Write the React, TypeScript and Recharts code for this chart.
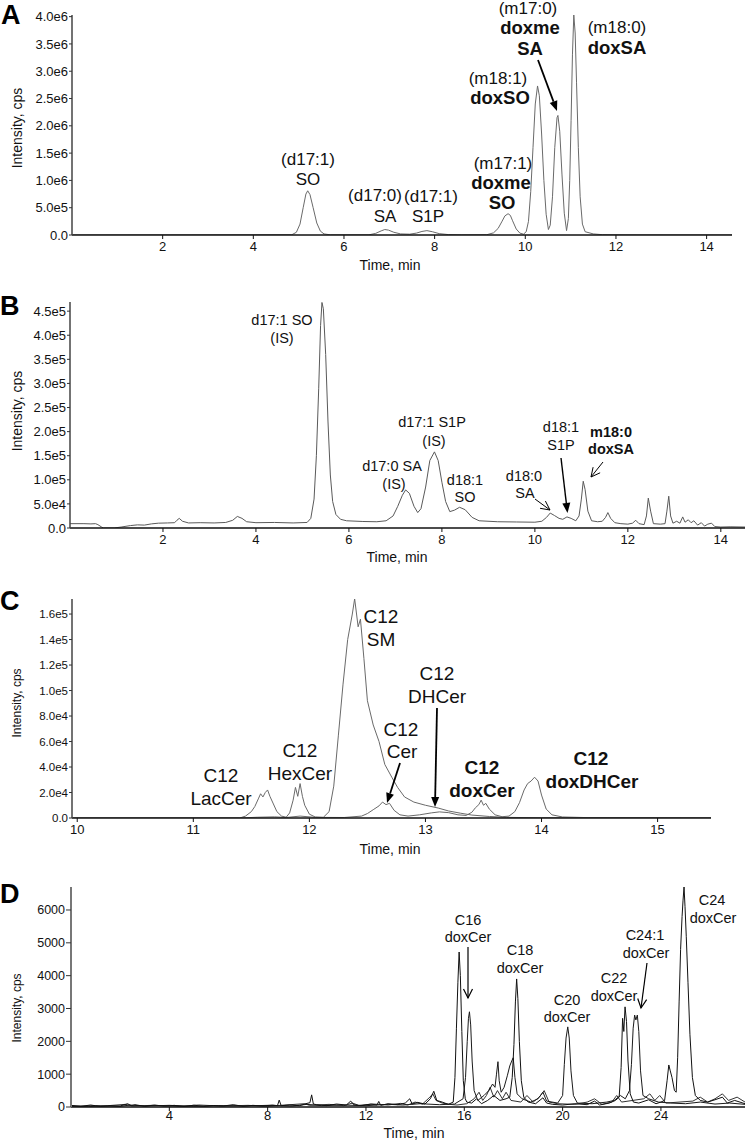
import { LineChart, Line, XAxis, YAxis } from 'recharts';

const FONT = '"Liberation Sans", Arial, Helvetica, sans-serif';

// Each trace is a list of [time (min), intensity (cps)].

// Panel A: sphingoid base standards
const A_TRACE: [number, number][] = [
  [0, 0], [4.85, 5e3], [4.95, 5e4], [5.03, 2.0e5], [5.1, 5.0e5], [5.16, 7.5e5], [5.2, 8.1e5],
  [5.25, 7.4e5], [5.32, 5.0e5], [5.4, 2.2e5], [5.48, 7e4], [5.56, 2e4], [5.7, 3e3], [6.55, 3e3],
  [6.7, 3e4], [6.82, 7.5e4], [6.9, 1.0e5], [6.98, 9e4], [7.1, 5e4], [7.25, 2e4], [7.45, 1.5e4],
  [7.6, 3.5e4], [7.72, 6.5e4], [7.83, 8.0e4], [7.95, 6e4], [8.1, 2.5e4], [8.3, 8e3], [8.6, 3e3],
  [9.15, 5e3], [9.3, 4e4], [9.4, 1.2e5], [9.48, 2.4e5], [9.55, 3.5e5], [9.62, 3.9e5], [9.67, 3.6e5],
  [9.72, 2.6e5], [9.8, 1.1e5], [9.88, 3.5e4], [9.96, 1.5e4], [10.02, 6e4], [10.07, 2.5e5],
  [10.12, 8.0e5], [10.17, 1.6e6], [10.22, 2.4e6], [10.27, 2.73e6], [10.31, 2.55e6], [10.36, 1.85e6],
  [10.41, 1.0e6], [10.46, 3.8e5], [10.51, 1.0e5], [10.55, 1.8e5], [10.6, 7e5], [10.65, 1.6e6],
  [10.7, 2.15e6], [10.72, 2.19e6], [10.76, 1.9e6], [10.81, 1.1e6], [10.86, 4e5], [10.91, 8e4],
  [10.95, 3e5], [10.98, 1.0e6], [11.01, 2.1e6], [11.04, 3.3e6], [11.07, 4.03e6], [11.1, 3.7e6],
  [11.13, 2.8e6], [11.17, 1.6e6], [11.21, 7e5], [11.26, 2e5], [11.32, 6e4], [11.5, 2e4],
  [11.7, 6e3], [12.2, 2e3], [14.56, 0],
];
const A_X_TICKS = [2, 4, 6, 8, 10, 12, 14];
const A_Y_TICKS = [0, 5e5, 1e6, 1.5e6, 2e6, 2.5e6, 3e6, 3.5e6, 4e6];
const A_Y_LABELS = ['0.0', '5.0e5', '1.0e6', '1.5e6', '2.0e6', '2.5e6', '3.0e6', '3.5e6', '4.0e6'];

// Panel B: cell extract, sphingoid bases
const B_TRACE: [number, number][] = [
  [0, 9000], [0.3, 9000], [0.45, 8500], [0.55, 9000], [0.6, 7000], [0.68, 2000], [0.72, 0],
  [0.95, 0], [1.1, 2000], [1.3, 5000], [1.45, 6500], [1.6, 6000], [1.75, 8500], [1.9, 10000],
  [2.1, 10500], [2.25, 11000], [2.3, 16000], [2.35, 20000], [2.42, 14000], [2.55, 10500],
  [2.8, 11000], [3.1, 10500], [3.35, 11500], [3.5, 16000], [3.6, 24000], [3.7, 20000],
  [3.8, 13000], [4.0, 11000], [4.4, 11500], [4.8, 10500], [5.1, 11500], [5.18, 20000],
  [5.25, 60000], [5.3, 150000], [5.35, 290000], [5.39, 420000], [5.42, 468000], [5.45, 455000],
  [5.5, 360000], [5.55, 220000], [5.6, 110000], [5.65, 55000], [5.72, 28000], [5.82, 18000],
  [5.95, 15000], [6.3, 13500], [6.6, 13000], [6.8, 15000], [6.95, 25000], [7.05, 45000],
  [7.15, 68000], [7.22, 79000], [7.3, 72000], [7.4, 45000], [7.48, 32000], [7.55, 40000],
  [7.65, 85000], [7.74, 140000], [7.84, 158000], [7.92, 140000], [8.0, 95000], [8.08, 55000],
  [8.17, 34000], [8.27, 37000], [8.38, 43000], [8.5, 38000], [8.65, 22000], [8.8, 15000],
  [9.2, 13000], [9.6, 12500], [10.0, 12000], [10.15, 14000], [10.25, 22000], [10.33, 31000],
  [10.42, 26000], [10.52, 20000], [10.6, 18000], [10.69, 23000], [10.78, 20000], [10.88, 15000],
  [10.95, 25000], [11.0, 60000], [11.04, 97000], [11.08, 80000], [11.14, 35000], [11.22, 15000],
  [11.35, 13000], [11.45, 14000], [11.52, 22000], [11.57, 32000], [11.63, 20000], [11.72, 11000],
  [11.85, 9000], [12.0, 8000], [12.1, 10000], [12.17, 16000], [12.24, 9000], [12.35, 7000],
  [12.4, 25000], [12.44, 62000], [12.49, 35000], [12.55, 9000], [12.7, 8000], [12.8, 9000],
  [12.84, 35000], [12.88, 66000], [12.92, 25000], [12.97, 10000], [13.05, 14000], [13.12, 10000],
  [13.18, 23000], [13.23, 12000], [13.3, 17000], [13.36, 11000], [13.42, 15000], [13.5, 6000],
  [13.58, 11000], [13.65, 4000], [13.72, 8000], [13.8, 10000], [13.87, 3000], [14.0, 2000],
  [14.2, 2500], [14.52, 2000],
];
const B_X_TICKS = [2, 4, 6, 8, 10, 12, 14];
const B_Y_TICKS = [0, 5e4, 1e5, 1.5e5, 2e5, 2.5e5, 3e5, 3.5e5, 4e5, 4.5e5];
const B_Y_LABELS = ['0.0', '5.0e4', '1.0e5', '1.5e5', '2.0e5', '2.5e5', '3.0e5', '3.5e5', '4.0e5', '4.5e5'];

// Panel C: C12 ceramide species
const C_TRACE_1: [number, number][] = [
  [9.955, 0], [11.4, 0], [11.45, 1500], [11.5, 5000], [11.53, 9000], [11.56, 15000], [11.58, 19000],
  [11.6, 16500], [11.62, 20000], [11.64, 22000], [11.66, 17000], [11.69, 11000], [11.72, 5000],
  [11.76, 1500], [11.8, 600], [11.83, 4000], [11.86, 14000], [11.88, 24000], [11.9, 17000],
  [11.92, 27000], [11.94, 17000], [11.96, 10000], [12.0, 3000], [12.05, 800], [12.12, 500],
  [12.17, 5000], [12.21, 25000], [12.25, 65000], [12.29, 105000], [12.33, 140000], [12.37, 160000],
  [12.39, 172000], [12.42, 150000], [12.44, 156000], [12.47, 125000], [12.5, 92000], [12.55, 73000],
  [12.6, 60000], [12.65, 42000], [12.71, 32000], [12.76, 24000], [12.82, 16500], [12.9, 12500],
  [13.0, 10000], [13.11, 7800], [13.2, 5500], [13.3, 3800], [13.4, 2300], [13.55, 1200],
  [13.7, 500], [14.0, 200], [15.46, 0],
];
const C_TRACE_2: [number, number][] = [
  [9.955, 0], [11.4, 0], [11.55, 600], [11.7, 900], [11.8, 400], [11.92, 1500], [12.05, 500],
  [12.3, 400], [12.45, 1500], [12.5, 3500], [12.55, 6500], [12.6, 9500], [12.63, 12500],
  [12.66, 10500], [12.69, 11500], [12.73, 6000], [12.78, 2500], [12.85, 1500], [12.95, 2500],
  [13.05, 4000], [13.12, 4800], [13.2, 4200], [13.28, 2500], [13.35, 2000], [13.4, 4500],
  [13.43, 8000], [13.46, 10500], [13.48, 14000], [13.5, 10000], [13.52, 11500], [13.55, 7000],
  [13.6, 2500], [13.66, 1000], [13.72, 1500], [13.77, 5000], [13.81, 12000], [13.85, 22000],
  [13.88, 27000], [13.91, 29000], [13.94, 32000], [13.97, 29000], [14.0, 18000], [14.04, 7000],
  [14.09, 2500], [14.18, 800], [14.4, 300], [15.0, 100], [15.46, 0],
];
const C_X_TICKS = [10, 11, 12, 13, 14, 15];
const C_Y_TICKS = [0, 2e4, 4e4, 6e4, 8e4, 1e5, 1.2e5, 1.4e5, 1.6e5];
const C_Y_LABELS = ['0.0', '2.0e4', '4.0e4', '6.0e4', '8.0e4', '1.0e5', '1.2e5', '1.4e5', '1.6e5'];

// Panel D: long-chain doxCer species
const D_TRACE_1: [number, number][] = [
  [0, 50], [0.4, 20], [0.8, 60], [1.2, 15], [1.6, 40], [2.0, 30], [2.3, 100], [2.45, 40], [2.6, 70],
  [3.0, 20], [3.4, 60], [3.8, 25], [4.2, 50], [4.6, 15], [5.0, 55], [5.4, 20], [5.8, 45], [6.2, 30],
  [6.6, 70], [7.0, 20], [7.4, 50], [7.8, 30], [8.2, 60], [8.4, 40], [8.47, 210], [8.55, 40],
  [8.9, 60], [9.3, 40], [9.6, 110], [9.72, 130], [9.79, 370], [9.86, 90], [10.0, 70], [10.4, 40],
  [10.8, 90], [11.2, 60], [11.38, 180], [11.5, 70], [11.8, 40], [12.2, 90], [12.45, 60],
  [12.52, 170], [12.6, 50], [12.9, 100], [13.3, 70], [13.6, 120], [13.78, 250], [13.88, 90],
  [14.1, 140], [14.4, 90], [14.62, 250], [14.76, 480], [14.88, 200], [15.1, 150], [15.35, 80],
  [15.55, 150], [15.62, 900], [15.68, 2400], [15.74, 3800], [15.79, 4720], [15.84, 4000],
  [15.9, 2300], [15.96, 800], [16.04, 250], [16.1, 150], [16.3, 120], [16.5, 250], [16.7, 100],
  [16.95, 200], [17.2, 350], [17.45, 200], [17.7, 250], [17.85, 300], [17.95, 900], [18.02, 1900],
  [18.08, 3200], [18.13, 3900], [18.18, 3300], [18.24, 2000], [18.32, 800], [18.42, 300],
  [18.6, 150], [18.9, 100], [19.2, 280], [19.35, 120], [19.6, 80], [20.0, 60], [20.5, 100],
  [21.0, 70], [21.3, 180], [21.5, 60], [21.9, 120], [22.15, 200], [22.3, 300], [22.38, 1200],
  [22.44, 2700], [22.49, 2300], [22.54, 3050], [22.6, 2600], [22.66, 1400], [22.75, 400],
  [22.88, 150], [23.1, 120], [23.5, 220], [23.8, 100], [24.0, 150], [24.15, 200], [24.25, 800],
  [24.32, 1280], [24.38, 1100], [24.45, 900], [24.55, 500], [24.62, 450], [24.68, 1500],
  [24.74, 3200], [24.8, 4800], [24.86, 5800], [24.9, 6300], [24.94, 6700], [24.98, 6100],
  [25.03, 5200], [25.1, 3800], [25.18, 2200], [25.28, 900], [25.4, 350], [25.6, 200], [25.9, 150],
  [26.2, 220], [26.5, 300], [26.7, 120], [27.0, 200], [27.42, 100],
];
const D_TRACE_2: [number, number][] = [
  [0, 20], [1.0, 40], [2.0, 20], [2.4, 60], [3.0, 30], [4.0, 50], [5.0, 20], [6.0, 40], [7.0, 30],
  [8.0, 50], [9.0, 30], [9.6, 80], [10.2, 40], [11.0, 60], [12.0, 40], [12.9, 80], [13.5, 60],
  [14.2, 100], [15.0, 70], [15.6, 90], [15.95, 250], [16.05, 900], [16.12, 2000], [16.17, 2700],
  [16.21, 2900], [16.26, 2500], [16.32, 1400], [16.4, 500], [16.55, 200], [16.8, 350], [17.0, 500],
  [17.15, 700], [17.25, 600], [17.31, 1000], [17.37, 1380], [17.42, 800], [17.5, 450], [17.62, 600],
  [17.75, 950], [17.85, 1250], [17.93, 1400], [17.99, 1500], [18.06, 900], [18.15, 400],
  [18.35, 250], [18.7, 150], [19.0, 250], [19.2, 450], [19.35, 180], [19.8, 120], [20.0, 350],
  [20.07, 1300], [20.14, 2100], [20.21, 2440], [20.27, 2100], [20.34, 1100], [20.44, 350],
  [20.6, 120], [21.2, 100], [21.8, 150], [22.1, 200], [22.35, 350], [22.55, 250], [22.72, 500],
  [22.8, 1300], [22.87, 2400], [22.93, 2800], [22.98, 2650], [23.04, 2800], [23.1, 2300],
  [23.17, 1100], [23.27, 350], [23.5, 250], [23.9, 150], [24.4, 120], [25.0, 100], [25.6, 150],
  [26.2, 90], [26.8, 120], [27.42, 80],
];
const D_TRACE_3: [number, number][] = [
  [0, 30], [0.7, 10], [1.5, 40], [2.2, 80], [2.5, 30], [3.3, 50], [4.4, 20], [5.2, 60], [6.1, 30],
  [7.2, 50], [8.0, 20], [8.7, 60], [9.5, 100], [9.7, 50], [10.5, 80], [11.1, 40], [11.45, 120],
  [11.7, 50], [12.3, 90], [12.9, 60], [13.4, 110], [13.7, 60], [14.0, 150], [14.3, 90], [14.6, 300],
  [14.72, 400], [14.85, 200], [15.1, 120], [15.4, 80], [15.7, 60], [16.1, 100], [16.4, 250],
  [16.6, 450], [16.75, 200], [16.9, 350], [17.05, 600], [17.2, 300], [17.35, 500], [17.55, 250],
  [17.7, 450], [17.9, 200], [18.3, 150], [18.55, 350], [18.8, 150], [19.05, 300], [19.25, 500],
  [19.45, 150], [19.8, 100], [20.5, 80], [21.0, 150], [21.3, 250], [21.6, 80], [22.0, 150],
  [22.2, 350], [22.4, 150], [23.3, 250], [23.55, 400], [23.75, 200], [23.95, 350], [24.2, 120],
  [25.3, 180], [25.6, 300], [25.9, 150], [26.2, 250], [26.5, 400], [26.75, 200], [27.1, 300],
  [27.42, 150],
];
const D_X_TICKS = [4, 8, 12, 16, 20, 24];
const D_Y_TICKS = [0, 1000, 2000, 3000, 4000, 5000, 6000];
const D_Y_LABELS = ['0', '1000', '2000', '3000', '4000', '5000', '6000'];

type Pt = { t: number; v: number };
const toPoints = (trace: [number, number][]): Pt[] => trace.map(([t, v]) => ({ t, v }));

interface Trace {
  data: Pt[];
  color: string;
  width?: number;
}

interface PanelProps {
  top: number;
  height: number;
  plot: { left: number; right: number; top: number; bottom: number };
  xDomain: [number, number];
  yDomain: [number, number];
  xTicks: number[];
  yTicks: number[];
  yLabels: string[];
  traces: Trace[];
  xFont: number;
  yFont: number;
  xTickGap: number;
  yTickSize: number;
  yAxisColor: string;
  yAxisWidth: number;
}

function Panel(p: PanelProps) {
  const margin = {
    top: p.plot.top - p.top,
    right: 745 - p.plot.right,
    bottom: p.top + p.height - p.plot.bottom - 30,
    left: 0,
  };
  return (
    <div style={{ position: 'absolute', left: 0, top: p.top }}>
      <LineChart width={745} height={p.height} margin={margin}>
        <XAxis
          type="number"
          dataKey="t"
          domain={p.xDomain}
          ticks={p.xTicks}
          interval={0}
          allowDataOverflow
          height={30}
          axisLine={{ stroke: '#111', strokeWidth: 1.5 }}
          tickLine={{ stroke: '#111' }}
          tickSize={4}
          tickMargin={p.xTickGap}
          tick={{ fontSize: p.xFont, fill: '#111' }}
        />
        <YAxis
          type="number"
          domain={p.yDomain}
          ticks={p.yTicks}
          interval={0}
          allowDataOverflow
          width={p.plot.left}
          axisLine={{ stroke: p.yAxisColor, strokeWidth: p.yAxisWidth }}
          tickLine={{ stroke: '#333' }}
          tickSize={p.yTickSize}
          tickMargin={1}
          tick={{ fontSize: p.yFont, fill: '#111' }}
          tickFormatter={(v: number) => p.yLabels[p.yTicks.indexOf(v)] ?? ''}
        />
        {p.traces.map((tr, i) => (
          <Line
            key={i}
            data={tr.data}
            dataKey="v"
            type="linear"
            dot={false}
            activeDot={false}
            stroke={tr.color}
            strokeWidth={tr.width ?? 1}
            isAnimationActive={false}
          />
        ))}
      </LineChart>
    </div>
  );
}

// Annotations: [text, centre x, centre y, font size, bold]
type Note = [string, number, number, number, boolean?];

const NOTES: Note[] = [
  // A
  ['(d17:1)', 308, 159, 17], ['SO', 308, 179, 17],
  ['(d17:0)', 375, 195, 17], ['SA', 385, 216, 17],
  ['(d17:1)', 431, 196, 17], ['S1P', 428, 216, 17],
  ['(m17:1)', 503, 163, 17], ['doxme', 501, 182, 18.5, true], ['SO', 502, 202, 18.5, true],
  ['(m18:1)', 498, 78, 17], ['doxSO', 500, 97, 18.5, true],
  ['(m17:0)', 528, 8, 17], ['doxme', 530, 27, 18.5, true], ['SA', 530, 48, 18.5, true],
  ['(m18:0)', 617, 27, 17], ['doxSA', 617, 47, 18.5, true],
  // B
  ['d17:1 SO', 282, 320, 14.5], ['(IS)', 282, 338, 14.5],
  ['d17:0 SA', 392, 466, 14.5], ['(IS)', 394, 484, 14.5],
  ['d17:1 S1P', 432, 422, 14.5], ['(IS)', 434, 441, 14.5],
  ['d18:1', 465, 480, 14.5], ['SO', 465, 497, 14.5],
  ['d18:0', 524, 476, 14.5], ['SA', 525, 493, 14.5],
  ['d18:1', 561, 427, 14.5], ['S1P', 561, 445, 14.5],
  ['m18:0', 611, 432, 14.5, true], ['doxSA', 611, 449, 14.5, true],
  // C
  ['C12', 221, 775, 19], ['LacCer', 221, 798, 19],
  ['C12', 300, 750, 19], ['HexCer', 300, 773, 19],
  ['C12', 381, 616, 19], ['SM', 381, 639, 19],
  ['C12', 437, 673, 19], ['DHCer', 437, 696, 19],
  ['C12', 401, 729, 19], ['Cer', 402, 751, 19],
  ['C12', 482, 767, 19, true], ['doxCer', 482, 790, 19, true],
  ['C12', 591, 758, 19, true], ['doxDHCer', 592, 781, 19, true],
  // D
  ['C16', 468, 920, 14.5], ['doxCer', 468, 937, 14.5],
  ['C18', 520, 950, 14.5], ['doxCer', 520, 968, 14.5],
  ['C20', 567, 1000, 14.5], ['doxCer', 567, 1017, 14.5],
  ['C22', 614, 978, 14.5], ['doxCer', 614, 996, 14.5],
  ['C24:1', 645, 935, 14.5], ['doxCer', 646, 953, 14.5],
  ['C24', 712, 900, 14.5], ['doxCer', 713, 918, 14.5],
];

// Arrows: [x1, y1, x2, y2, filled head, stroke width]
type ArrowSpec = [number, number, number, number, boolean, number];
const ARROWS: ArrowSpec[] = [
  [538, 60, 557, 111, true, 1.8],
  [535, 499, 550, 510, false, 1],
  [561, 458, 567.5, 513, true, 1.4],
  [603, 462, 591, 477, false, 1],
  [437, 708, 435, 807, true, 1.8],
  [400, 763, 387, 803, true, 1.8],
  [468, 947, 468, 998, false, 1.2],
  [647, 963, 641, 1008, false, 1.2],
];

function Arrow({ spec }: { spec: ArrowSpec }) {
  const [x1, y1, x2, y2, filled, w] = spec;
  const ang = Math.atan2(y2 - y1, x2 - x1);
  const len = filled ? 10 : 9;
  const half = filled ? 4 : 4.5;
  const bx = x2 - len * Math.cos(ang);
  const by = y2 - len * Math.sin(ang);
  const px = -Math.sin(ang) * half;
  const py = Math.cos(ang) * half;
  const l = `${bx + px},${by + py}`;
  const r = `${bx - px},${by - py}`;
  return (
    <g>
      <line x1={x1} y1={y1} x2={filled ? bx : x2} y2={filled ? by : y2} stroke="#000" strokeWidth={w} />
      {filled ? (
        <polygon points={`${l} ${x2},${y2} ${r}`} fill="#000" />
      ) : (
        <polyline points={`${l} ${x2},${y2} ${r}`} fill="none" stroke="#000" strokeWidth={w} />
      )}
    </g>
  );
}

const PANEL_LETTERS: [string, number, number][] = [
  ['A', 1, 24],
  ['B', 0, 315],
  ['C', 0, 610],
  ['D', 0, 903],
];

const Y_TITLES: [number, number, number][] = [
  [17, 128, 14],
  [17, 411, 14],
  [17, 703, 12],
  [17, 1008, 12],
];

const X_TITLES: [number, number][] = [
  [390, 265],
  [397, 557],
  [390, 849],
  [414, 1133],
];

export default function App() {
  const grey = '#6a6a6a';
  return (
    <div
      style={{
        position: 'absolute',
        left: 0,
        top: 0,
        width: 745,
        height: 1142,
        background: '#fff',
        fontFamily: FONT,
        overflow: 'hidden',
      }}
    >
      <Panel
        top={0}
        height={265}
        plot={{ left: 72, right: 732, top: 15, bottom: 235 }}
        xDomain={[0, 14.56]}
        yDomain={[0, 4.03e6]}
        xTicks={A_X_TICKS}
        yTicks={A_Y_TICKS}
        yLabels={A_Y_LABELS}
        traces={[{ data: toPoints(A_TRACE), color: grey }]}
        xFont={13}
        yFont={13}
        xTickGap={3}
        yTickSize={3}
        yAxisColor="#444"
        yAxisWidth={1.5}
      />
      <Panel
        top={270}
        height={288}
        plot={{ left: 70, right: 745, top: 302, bottom: 528 }}
        xDomain={[0, 14.52]}
        yDomain={[0, 4.69e5]}
        xTicks={B_X_TICKS}
        yTicks={B_Y_TICKS}
        yLabels={B_Y_LABELS}
        traces={[{ data: toPoints(B_TRACE), color: '#5a5a5a' }]}
        xFont={13}
        yFont={13}
        xTickGap={3}
        yTickSize={3}
        yAxisColor="#444"
        yAxisWidth={1.5}
      />
      <Panel
        top={560}
        height={288}
        plot={{ left: 72, right: 711, top: 599, bottom: 818 }}
        xDomain={[9.955, 15.46]}
        yDomain={[0, 1.718e5]}
        xTicks={C_X_TICKS}
        yTicks={C_Y_TICKS}
        yLabels={C_Y_LABELS}
        traces={[
          { data: toPoints(C_TRACE_1), color: grey },
          { data: toPoints(C_TRACE_2), color: grey },
        ]}
        xFont={13}
        yFont={11.5}
        xTickGap={3}
        yTickSize={3}
        yAxisColor="#444"
        yAxisWidth={1.5}
      />
      <Panel
        top={850}
        height={287}
        plot={{ left: 71, right: 745, top: 887, bottom: 1107 }}
        xDomain={[0, 27.42]}
        yDomain={[0, 6700]}
        xTicks={D_X_TICKS}
        yTicks={D_Y_TICKS}
        yLabels={D_Y_LABELS}
        traces={[
          { data: toPoints(D_TRACE_3), color: '#333' },
          { data: toPoints(D_TRACE_2), color: '#1a1a1a' },
          { data: toPoints(D_TRACE_1), color: '#111' },
        ]}
        xFont={13}
        yFont={12.5}
        xTickGap={0}
        yTickSize={5}
        yAxisColor="#777"
        yAxisWidth={2}
      />
      <svg
        width={745}
        height={1142}
        style={{ position: 'absolute', left: 0, top: 0, pointerEvents: 'none' }}
        fontFamily={FONT}
      >
        {PANEL_LETTERS.map(([s, x, y]) => (
          <text key={s} x={x} y={y} fontSize={27} fontWeight="bold" fill="#000">
            {s}
          </text>
        ))}
        {Y_TITLES.map(([x, y, size], i) => (
          <text
            key={`yt${i}`}
            x={x}
            y={y}
            fontSize={size}
            fill="#111"
            textAnchor="middle"
            dominantBaseline="central"
            transform={`rotate(-90 ${x} ${y})`}
          >
            Intensity, cps
          </text>
        ))}
        {X_TITLES.map(([x, y], i) => (
          <text key={`xt${i}`} x={x} y={y + 5} fontSize={14} fill="#111" textAnchor="middle">
            Time, min
          </text>
        ))}
        {NOTES.map(([s, x, y, size, bold], i) => (
          <text
            key={`n${i}`}
            x={x}
            y={y + size * 0.36}
            fontSize={size}
            fontWeight={bold ? 'bold' : 'normal'}
            fill="#111"
            textAnchor="middle"
          >
            {s}
          </text>
        ))}
        {ARROWS.map((a, i) => (
          <Arrow key={`a${i}`} spec={a} />
        ))}
      </svg>
    </div>
  );
}
